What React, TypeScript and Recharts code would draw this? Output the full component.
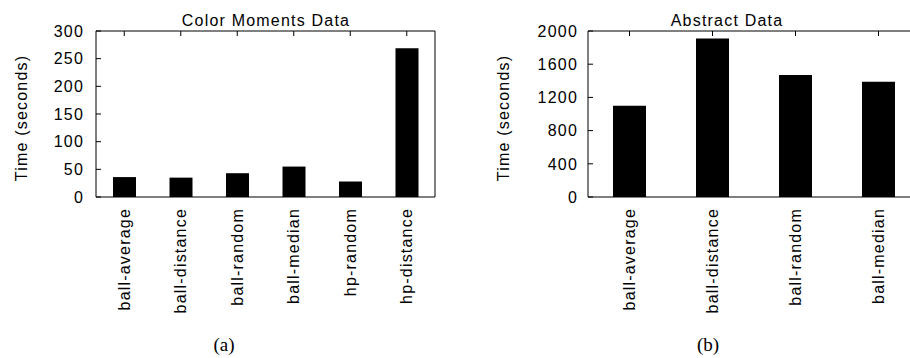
import { Bar, BarChart, XAxis, YAxis } from 'recharts'

const colorCategories = ['ball-average', 'ball-distance', 'ball-random', 'ball-median', 'hp-random', 'hp-distance']
const colorTimes = [36, 35, 43, 55, 28, 269]
const colorTicks = [0, 50, 100, 150, 200, 250, 300]

const abstractCategories = ['ball-average', 'ball-distance', 'ball-random', 'ball-median']
const abstractTimes = [1100, 1910, 1470, 1390]
const abstractTicks = [0, 400, 800, 1200, 1600, 2000]

const FONT = '"Liberation Sans", Arial, Helvetica, sans-serif'
const TICK_LEN = 5

type TickProps = { x?: number; y?: number; payload?: { value: string | number } }

function RotatedTick({ x, y, payload }: TickProps) {
  return (
    <text
      x={x}
      y={y}
      transform={`rotate(-90 ${x} ${y})`}
      textAnchor="end"
      dominantBaseline="central"
      fill="#000"
      fontSize={16}
      fontFamily={FONT}
    >
      {payload?.value}
    </text>
  )
}

// left axis: label plus an inward tick mark (gnuplot style)
function makeLeftTick(margin: number) {
  return function LeftTick({ x = 0, y = 0, payload }: TickProps) {
    const ax = x + margin
    return (
      <g>
        <line x1={ax} x2={ax + TICK_LEN} y1={y} y2={y} stroke="#000" />
        <text x={x} y={y} dy="0.36em" textAnchor="end" fill="#000" fontSize={16} fontFamily={FONT}>
          {payload?.value}
        </text>
      </g>
    )
  }
}

function RightTick({ x = 0, y = 0 }: TickProps) {
  return <line x1={x - TICK_LEN} x2={x} y1={y} y2={y} stroke="#000" />
}

function TopTick({ x = 0, y = 0 }: TickProps) {
  return <line x1={x} x2={x} y1={y} y2={y + TICK_LEN} stroke="#000" />
}

interface PanelProps {
  categories: string[]
  values: number[]
  ticks: number[]
  width: number
  axisWidth: number
  rightMargin: number
  barSize: number
  labelGap: number
}

function Panel({ categories, values, ticks, width, axisWidth, rightMargin, barSize, labelGap }: PanelProps) {
  const data = categories.map((name, i) => ({ name, time: values[i] }))
  const domain: [number, number] = [ticks[0], ticks[ticks.length - 1]]
  const axisStyle = { stroke: '#000', strokeWidth: 1 }
  const LeftTick = makeLeftTick(labelGap)

  return (
    <BarChart
      width={width}
      height={358}
      data={data}
      margin={{ top: 30, right: rightMargin - 1, bottom: 0, left: 0 }}
    >
      <XAxis
        xAxisId="top"
        orientation="top"
        dataKey="name"
        height={1}
        interval={0}
        tickSize={0}
        tickMargin={0}
        tickLine={false}
        axisLine={axisStyle}
        tick={<TopTick />}
      />
      <YAxis
        yAxisId="right"
        orientation="right"
        type="number"
        domain={domain}
        ticks={ticks}
        interval={0}
        width={1}
        tickSize={0}
        tickMargin={0}
        tickLine={false}
        axisLine={axisStyle}
        tick={<RightTick />}
      />
      <YAxis
        yAxisId="left"
        type="number"
        domain={domain}
        ticks={ticks}
        interval={0}
        width={axisWidth}
        tickSize={0}
        tickMargin={labelGap}
        tickLine={false}
        axisLine={axisStyle}
        tick={<LeftTick />}
      />
      <XAxis
        xAxisId="bottom"
        dataKey="name"
        height={161}
        interval={0}
        tickSize={0}
        tickMargin={11}
        tickLine={false}
        axisLine={axisStyle}
        tick={<RotatedTick />}
      />
      <Bar
        dataKey="time"
        xAxisId="bottom"
        yAxisId="left"
        fill="#000"
        barSize={barSize}
        isAnimationActive={false}
      />
    </BarChart>
  )
}

export default function App() {
  const textStyle = { fontFamily: FONT, fontSize: 16, fill: '#000' }
  const serif = { fontFamily: '"Liberation Serif", "DejaVu Serif", serif', fontSize: 19, fill: '#000', letterSpacing: 0 }
  return (
    <div
      style={{
        position: 'absolute',
        left: 0,
        top: 0,
        width: 910,
        height: 358,
        overflow: 'hidden',
        background: '#fff',
        letterSpacing: '1.2px',
        fontFamily: FONT,
      }}
    >
      <div style={{ position: 'absolute', left: 0, top: 0 }}>
        <Panel
          categories={colorCategories}
          values={colorTimes}
          ticks={colorTicks}
          width={460}
          axisWidth={96}
          rightMargin={25}
          barSize={23}
          labelGap={12}
        />
      </div>
      <div style={{ position: 'absolute', left: 470, top: 0 }}>
        <Panel
          categories={abstractCategories}
          values={abstractTimes}
          ticks={abstractTicks}
          width={470}
          axisWidth={118}
          rightMargin={20}
          barSize={33}
          labelGap={10}
        />
      </div>
      <svg
        width={910}
        height={358}
        style={{ position: 'absolute', left: 0, top: 0, pointerEvents: 'none' }}
      >
        <text x={266} y={26} textAnchor="middle" style={textStyle}>
          Color Moments Data
        </text>
        <text x={727} y={26} textAnchor="middle" style={textStyle}>
          Abstract Data
        </text>
        <text
          transform="translate(21 118) rotate(-90)"
          textAnchor="middle"
          dominantBaseline="central"
          style={textStyle}
        >
          Time (seconds)
        </text>
        <text
          transform="translate(503 118) rotate(-90)"
          textAnchor="middle"
          dominantBaseline="central"
          style={textStyle}
        >
          Time (seconds)
        </text>
        <text x={224} y={351} textAnchor="middle" style={serif}>
          (a)
        </text>
        <text x={708} y={351} textAnchor="middle" style={serif}>
          (b)
        </text>
      </svg>
    </div>
  )
}
